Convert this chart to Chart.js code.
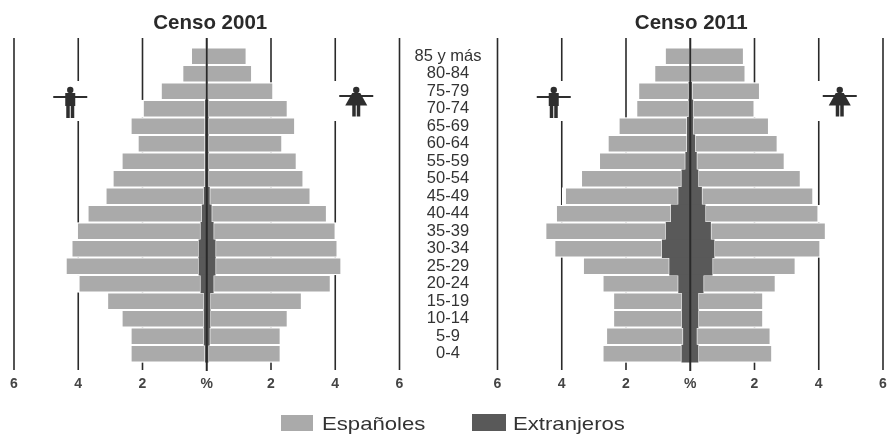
<!DOCTYPE html>
<html>
<head>
<meta charset="utf-8">
<title>Censo 2001 y 2011</title>
<script src="https://cdn.jsdelivr.net/npm/chart.js@4"></script>
<style>
  html, body { margin: 0; padding: 0; background: #fff; }
  body { position: relative; width: 890px; height: 435px; overflow: hidden; }
  canvas { position: absolute; top: 0; }
  #chart2001 { left: 0; }
  #chart2011 { left: 470px; }
  .swatch { position: absolute; }
  .legendText {
    position: absolute; top: 411px; font: 18.6px/26px "Liberation Sans", sans-serif;
    color: #333; transform: scaleX(1.19); transform-origin: left center; white-space: nowrap;
  }
</style>
</head>
<body>
<canvas id="chart2001" width="497" height="435"></canvas>
<canvas id="chart2011" width="420" height="435"></canvas>

<div class="swatch" style="left:281px;top:415px;width:32px;height:16px;background:#aaaaaa"></div>
<div class="legendText" style="left:322px">Españoles</div>
<div class="swatch" style="left:472px;top:414px;width:34px;height:17px;background:#595959"></div>
<div class="legendText" style="left:513px">Extranjeros</div>

<script>
const categories = ["85 y más", "80-84", "75-79", "70-74", "65-69", "60-64", "55-59", "50-54", "45-49",
  "40-44", "35-39", "30-34", "25-29", "20-24", "15-19", "10-14", "5-9", "0-4"];
const xTicks = [-6, -4, -2, 0, 2, 4, 6];

// Censo 2001 (% of population, men drawn to the left)
const spanishMen2001 = [0.49, 0.76, 1.43, 1.95, 2.33, 2.11, 2.61, 2.89, 3.07, 3.57, 3.86, 3.97, 4.15, 3.81, 3.02, 2.57, 2.29, 2.33];
const spanishWomen2001 = [1.24, 1.41, 2.07, 2.48, 2.71, 2.31, 2.76, 2.97, 3.15, 3.6, 3.81, 3.81, 3.93, 3.66, 2.86, 2.42, 2.22, 2.26];
const foreignMen2001 = [0, 0, 0, 0.04, 0.04, 0.04, 0.04, 0.04, 0.08, 0.14, 0.18, 0.24, 0.24, 0.18, 0.08, 0.08, 0.08, 0.04];
const foreignWomen2001 = [0, 0, 0, 0.04, 0.04, 0.04, 0.04, 0.04, 0.08, 0.14, 0.2, 0.26, 0.26, 0.2, 0.1, 0.1, 0.08, 0.04];

// Censo 2011
const spanishMen2011 = [0.79, 1.12, 1.58, 1.64, 2.14, 2.48, 2.7, 3.14, 3.54, 3.59, 3.76, 3.36, 2.7, 2.37, 2.15, 2.15, 2.41, 2.47];
const spanishWomen2011 = [1.67, 1.72, 2.13, 1.92, 2.37, 2.58, 2.75, 3.2, 3.48, 3.53, 3.59, 3.31, 2.6, 2.26, 2.03, 2.03, 2.31, 2.31];
const foreignMen2011 = [0, 0, 0.04, 0.04, 0.09, 0.09, 0.14, 0.26, 0.36, 0.59, 0.75, 0.87, 0.64, 0.36, 0.25, 0.25, 0.21, 0.26];
const foreignWomen2011 = [0, 0, 0.04, 0.08, 0.08, 0.14, 0.19, 0.24, 0.35, 0.46, 0.63, 0.74, 0.68, 0.4, 0.24, 0.24, 0.19, 0.24];

const SPANISH_COLOR = "#aaaaaa";
const FOREIGN_COLOR = "#595959";
const LINE_COLOR = "#2a2a2a";
const FONT = "'Liberation Sans', Arial, sans-serif";

function drawMan(ctx, cx) {
  ctx.fillStyle = "#2e2e2e";
  ctx.beginPath();
  ctx.arc(cx, 90, 3.2, 0, Math.PI * 2);
  ctx.fill();
  ctx.fillRect(cx - 17, 96, 34, 2);   // arms
  ctx.fillRect(cx - 5, 93, 10, 13);   // body
  ctx.fillRect(cx - 4, 106, 3.5, 12); // legs
  ctx.fillRect(cx + 0.5, 106, 3.5, 12);
}

function drawWoman(ctx, cx) {
  ctx.fillStyle = "#2e2e2e";
  ctx.beginPath();
  ctx.arc(cx, 90, 3.2, 0, Math.PI * 2);
  ctx.fill();
  ctx.fillRect(cx - 17, 95, 34, 2);
  ctx.beginPath(); // dress
  ctx.moveTo(cx - 4, 93);
  ctx.lineTo(cx + 4, 93);
  ctx.lineTo(cx + 11, 105.5);
  ctx.lineTo(cx - 11, 105.5);
  ctx.closePath();
  ctx.fill();
  ctx.fillRect(cx - 4, 105, 3.5, 11.5);
  ctx.fillRect(cx + 0.5, 105, 3.5, 11.5);
}

// vertical lines run past the plot area and are broken around bars and icons
const pyramidLines = {
  id: "pyramidLines",
  afterLayout(chart) {
    // the title sits a little right of the plot centre
    const shift = chart.options.titleShift || 0;
    chart.titleBlock.left += shift;
    chart.titleBlock.right += shift;
  },
  beforeDatasetsDraw(chart) {
    const ctx = chart.ctx;
    const xScale = chart.scales.x;
    ctx.save();
    ctx.strokeStyle = LINE_COLOR;
    ctx.lineWidth = 1.6;
    xTicks.forEach((t) => {
      if (t === 0) return;
      const px = xScale.getPixelForValue(t);
      ctx.beginPath();
      ctx.moveTo(px, 38);
      ctx.lineTo(px, 370);
      ctx.stroke();
    });
    // white gap for the icons
    ctx.fillStyle = "#fff";
    ctx.fillRect(xScale.getPixelForValue(-4) - 3, 81, 6, 40);
    ctx.fillRect(xScale.getPixelForValue(4) - 3, 81, 6, 40);
    // white halo at the outer end of each bar
    chart.data.datasets.forEach((ds, i) => {
      if (!ds.spanish) return;
      chart.getDatasetMeta(i).data.forEach((bar) => {
        const dir = bar.x < bar.base ? -1 : 1;
        const left = dir < 0 ? bar.x - 3 : bar.base;
        ctx.fillRect(left, bar.y - bar.height / 2, Math.abs(bar.x - bar.base) + 3, bar.height);
      });
    });
    ctx.restore();
  },
  afterDatasetsDraw(chart) {
    const ctx = chart.ctx;
    const xScale = chart.scales.x;
    const zero = xScale.getPixelForValue(0);
    ctx.save();
    ctx.strokeStyle = LINE_COLOR;
    ctx.lineWidth = 2;
    ctx.beginPath();
    ctx.moveTo(zero, 38);
    ctx.lineTo(zero, 371);
    ctx.stroke();
    drawMan(ctx, xScale.getPixelForValue(-4) - 8);
    drawWoman(ctx, xScale.getPixelForValue(4) + 21);
    ctx.restore();
  },
};

function drawPyramid(canvasId, titleText, spanishMen, spanishWomen, foreignMen, foreignWomen, padding, showAges, titleShift) {
  const foreignStyle = { backgroundColor: FOREIGN_COLOR, borderWidth: 0, inflateAmount: 0.4 };
  const spanishStyle = { backgroundColor: SPANISH_COLOR, borderColor: "#fff", borderWidth: 1, borderSkipped: false, inflateAmount: 0, spanish: true };

  return new Chart(document.getElementById(canvasId), {
    type: "bar",
    data: {
      labels: categories,
      datasets: [
        { label: "Extranjeros hombres", data: foreignMen.map((v) => (v ? -v : null)), ...foreignStyle },
        { label: "Españoles hombres", data: spanishMen.map((v) => -v), ...spanishStyle },
        { label: "Extranjeros mujeres", data: foreignWomen.map((v) => v || null), ...foreignStyle },
        { label: "Españoles mujeres", data: spanishWomen, ...spanishStyle },
      ],
    },
    options: {
      indexAxis: "y",
      responsive: false,
      animation: false,
      barPercentage: 1,
      categoryPercentage: 1,
      titleShift,
      layout: { padding },
      scales: {
        x: {
          stacked: true,
          min: -6,
          max: 6,
          grid: { display: false, drawTicks: true, tickLength: 11 },
          border: { display: false },
          afterFit: (scale) => { scale.height = 72.4; },
          ticks: {
            stepSize: 2,
            padding: 2,
            maxRotation: 0,
            color: "#444",
            font: { family: FONT, size: 14, weight: "bold" },
            callback: (v) => (v === 0 ? "%" : Math.abs(v)),
          },
        },
        y: {
          stacked: true,
          position: "right",
          display: showAges,
          grid: { display: false, drawTicks: false },
          border: { display: false },
          afterFit: (scale) => { scale.width = showAges ? 97.5 : 0; },
          ticks: {
            autoSkip: false,
            crossAlign: "center",
            padding: 15,
            color: "#333",
            font: { family: FONT, size: 16.5 },
          },
        },
      },
      plugins: {
        legend: { display: false },
        tooltip: { enabled: false },
        title: {
          display: true,
          text: titleText,
          fullSize: false,
          color: "#2a2a2a",
          padding: { top: 2, bottom: 11.4 },
          font: { family: FONT, size: 20.5, weight: "bold", lineHeight: 1.2 },
        },
      },
    },
    plugins: [pyramidLines],
  });
}

drawPyramid("chart2001", "Censo 2001", spanishMen2001, spanishWomen2001, foreignMen2001, foreignWomen2001,
  { left: 14, right: 0, top: 9.4, bottom: 0 }, true, 3.5);
drawPyramid("chart2011", "Censo 2011", spanishMen2011, spanishWomen2011, foreignMen2011, foreignWomen2011,
  { left: 27.5, right: 7, top: 9.4, bottom: 0 }, false, 1);
</script>
</body>
</html>
